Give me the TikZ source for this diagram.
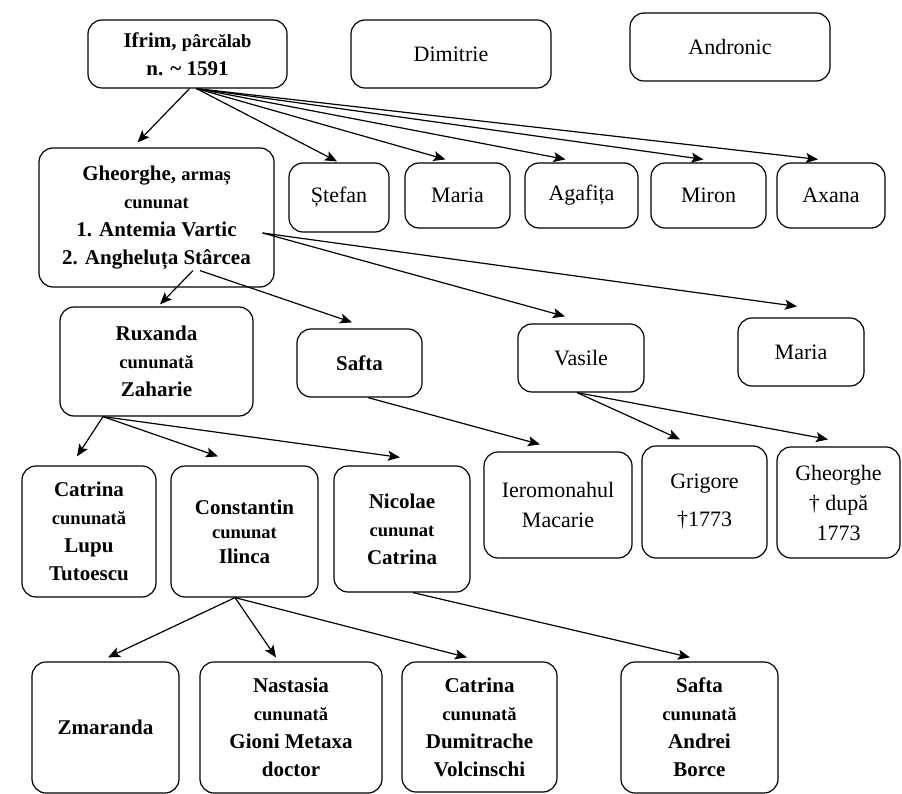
\documentclass[tikz,border=0pt]{standalone}
\usepackage{fontspec}
\setmainfont{Liberation Serif}
\usetikzlibrary{arrows.meta}
\newcommand\smtxt[1]{{\fontsize{18.5}{28}\selectfont #1}}
\begin{document}
\begin{tikzpicture}[x=1pt,y=-1pt,
  box/.style={draw, line width=1.2pt, rounded corners=14pt, align=center, inner sep=0pt},
  famb/.style={box, font=\fontsize{21}{28}\selectfont\bfseries},
  famr/.style={box, font=\fontsize{22}{30}\selectfont},
  link/.style={line width=1.2pt, -{Stealth[length=12pt,width=10pt,inset=2.5pt]}}]
\useasboundingbox (0,0) rectangle (902,794);
% row 1
\node[famb, minimum width=199pt, minimum height=68pt] (ifrim) at (187.5,54) {Ifrim, \smtxt{pârcălab}\\n. \textasciitilde{} 1591};
\node[famr, minimum width=200pt, minimum height=68pt] (dimitrie) at (451,54) {Dimitrie};
\node[famr, minimum width=200pt, minimum height=68pt] (andronic) at (730,47) {Andronic};
% row 2
\node[famb, minimum width=235pt, minimum height=139pt] (gheorghe) at (156.5,217.5) {Gheorghe, \smtxt{armaș}\\\smtxt{cununat}\\1. Antemia Vartic\\2. Angheluța Stârcea};
\node[famr, minimum width=100pt, minimum height=69pt] (stefan) at (339,197.5) {Ștefan};
\node[famr, minimum width=105pt, minimum height=65pt] (maria1) at (457.5,195.5) {Maria};
\node[famr, minimum width=113pt, minimum height=65pt] (agafita) at (581.5,195.5) {Agafița};
\node[famr, minimum width=115pt, minimum height=65pt] (miron) at (708.5,195.5) {Miron};
\node[famr, minimum width=108pt, minimum height=65pt] (axana) at (831,195.5) {Axana};
% row 3
\node[famb, minimum width=193pt, minimum height=109pt] (ruxanda) at (156.5,361.5) {Ruxanda\\\smtxt{cununată}\\Zaharie};
\node[famb, minimum width=125pt, minimum height=68pt] (safta1) at (359.5,363) {Safta};
\node[famr, minimum width=126pt, minimum height=68pt] (vasile) at (581,358) {Vasile};
\node[famr, minimum width=126pt, minimum height=68pt] (maria2) at (801,352) {Maria};
% row 4
\node[famb, minimum width=134pt, minimum height=131pt] (catrina1) at (89,531.5) {Catrina\\\smtxt{cununată}\\Lupu\\Tutoescu};
\node[famb, minimum width=147pt, minimum height=131pt] (constantin) at (244.5,531.5) {Constantin\\[-4pt]\smtxt{cununat}\\[-3pt]Ilinca};
\node[famb, minimum width=136pt, minimum height=126pt] (nicolae) at (402,529) {Nicolae\\\smtxt{cununat}\\Catrina};
\node[famr, minimum width=148pt, minimum height=106pt] (ierom) at (558,505) {Ieromonahul\\Macarie};
\node[famr, minimum width=125pt, minimum height=112pt] (grigore) at (704.5,502) {Grigore\\[8pt]†1773};
\node[famr, minimum width=123pt, minimum height=111pt] (gheorghe2) at (838.5,502.5) {Gheorghe\\† după\\1773};
% row 5
\node[famb, minimum width=147pt, minimum height=131pt] (zmaranda) at (105.5,727.5) {Zmaranda};
\node[famb, minimum width=182pt, minimum height=131pt] (nastasia) at (291,727.5) {Nastasia\\\smtxt{cununată}\\Gioni Metaxa\\doctor};
\node[famb, minimum width=155pt, minimum height=130pt] (catrina2) at (479.5,727) {Catrina\\\smtxt{cununată}\\Dumitrache\\Volcinschi};
\node[famb, minimum width=157pt, minimum height=131pt] (safta2) at (699.5,727.5) {Safta\\\smtxt{cununată}\\Andrei\\Borce};
% connectors
\draw[link] ([xshift=2pt]ifrim.south) -- ([xshift=-19pt,yshift=5pt]gheorghe.north);
\draw[link] ([xshift=9pt]ifrim.south) -- ([xshift=-2pt,yshift=1pt]stefan.north);
\draw[link] ([xshift=9pt]ifrim.south) -- ([xshift=-12pt,yshift=3pt]maria1.north);
\draw[link] ([xshift=9pt]ifrim.south) -- ([xshift=-16pt,yshift=3pt]agafita.north);
\draw[link] ([xshift=9pt]ifrim.south) -- ([xshift=-5pt,yshift=3pt]miron.north);
\draw[link] ([xshift=9pt]ifrim.south) -- ([xshift=-13pt,yshift=3pt]axana.north);
\draw[link] ([xshift=36.5pt,yshift=17pt]gheorghe.south) -- ([xshift=3.5pt,yshift=2pt]ruxanda.north);
\draw[link] ([xshift=43.5pt,yshift=17pt]gheorghe.south) -- ([xshift=-7.5pt,yshift=6pt]safta1.north);
\draw[link] ([xshift=-12pt,yshift=-15.5pt]gheorghe.east) -- ([xshift=-16pt,yshift=7pt]vasile.north);
\draw[link] ([xshift=-12pt,yshift=-15.5pt]gheorghe.east) -- ([xshift=-4pt,yshift=11pt]maria2.north);
\draw[link] ([xshift=-53.5pt]ruxanda.south) -- ([xshift=-12pt,yshift=9pt]catrina1.north);
\draw[link] ([xshift=-53.5pt]ruxanda.south) -- ([xshift=-26.5pt,yshift=9pt]constantin.north);
\draw[link] ([xshift=-53.5pt]ruxanda.south) -- ([xshift=-2pt,yshift=8pt]nicolae.north);
\draw[link] ([xshift=8.5pt]safta1.south) -- ([xshift=-18pt,yshift=7pt]ierom.north);
\draw[link] ([xshift=-4pt]vasile.south) -- ([xshift=-24.5pt,yshift=6pt]grigore.north);
\draw[link] ([xshift=-4pt]vasile.south) -- ([xshift=-10.5pt,yshift=7pt]gheorghe2.north);
\draw[link] ([xshift=-9.5pt]constantin.south) -- ([xshift=2.5pt,yshift=4pt]zmaranda.north);
\draw[link] ([xshift=-9.5pt]constantin.south) -- ([xshift=-15pt,yshift=4pt]nastasia.north);
\draw[link] ([xshift=-9.5pt]constantin.south) -- ([xshift=-12.5pt,yshift=4pt]catrina2.north);
\draw[link] ([xshift=11pt]nicolae.south) -- ([xshift=-9.5pt,yshift=4pt]safta2.north);
\end{tikzpicture}
\end{document}
